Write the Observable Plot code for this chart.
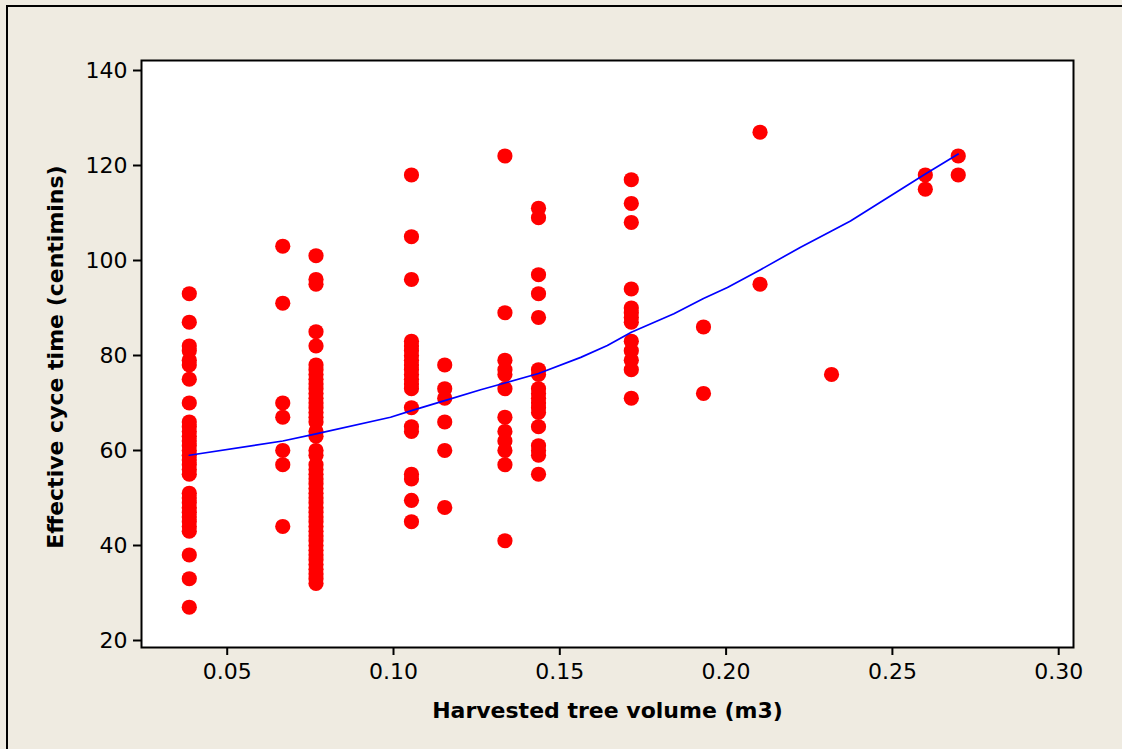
<!DOCTYPE html>
<html>
<head>
<meta charset="utf-8">
<script src="https://cdn.jsdelivr.net/npm/d3@7"></script>
<script src="https://cdn.jsdelivr.net/npm/@observablehq/plot@0.6"></script>
<style>
  html, body { margin: 0; padding: 0; background: #efebe1; overflow: hidden; }
  #chart { position: relative; width: 1122px; height: 749px; overflow: hidden; }
  #chart svg { display: block; position: absolute; left: 0; top: 0; }
  .outer-border { position: absolute; left: 6px; top: 5px; width: 1200px; height: 800px;
                  border: 2px solid #000; pointer-events: none; }
</style>
</head>
<body>
<div id="chart"><div class="outer-border"></div></div>
<script>
// Harvested tree volume classes (m3)
const volumes = [0.0386, 0.0667, 0.0767, 0.1054, 0.1154, 0.1335, 0.1436, 0.1715, 0.1932, 0.2102, 0.2317, 0.2599, 0.2698];

// Effective cycle times (centimins) observed for each volume class
const cycleTimes = [
  [93, 87, 82, 81, 79, 78, 75, 70, 66, 65, 64, 63, 62, 61, 60, 59, 58, 57, 56, 55, 51, 50, 49, 48, 47, 46, 45, 44, 43, 38, 33, 27],
  [103, 91, 70, 67, 60, 57, 44],
  [101, 96, 95, 85, 82, 78, 77, 76, 75, 74, 73, 72, 71, 70, 69, 68, 67, 66, 64, 63, 60, 59, 57, 56, 55, 54, 53, 52, 51, 50, 49, 48, 47, 46, 45, 44, 43, 42, 41, 40, 39, 38, 37, 36, 35, 34, 33, 32],
  [118, 105, 96, 83, 82, 81, 80, 79, 78, 77, 76, 75, 74, 73, 69, 65, 64, 55, 54, 49.5, 45],
  [78, 73, 71, 66, 60, 48],
  [122, 89, 79, 77, 76, 73, 67, 64, 62, 60, 57, 41],
  [111, 109, 97, 93, 88, 77, 76, 73, 72, 71, 70, 69, 68, 65, 61, 60, 59, 55],
  [117, 112, 108, 94, 90, 89, 88, 87, 83, 81, 79, 77, 71],
  [86, 72],
  [127, 95],
  [76],
  [118, 115],
  [122, 118]
];

// Lowess smoother through the scatter
const fitVolume = [0.0386, 0.0667, 0.0767, 0.0991, 0.1054, 0.1154, 0.1262, 0.1335, 0.1436, 0.1563, 0.1643, 0.1715, 0.1843, 0.1932, 0.2004, 0.2102, 0.2224, 0.2317, 0.2374, 0.2599, 0.2698];
const fitTime   = [59.0, 62.0, 63.5, 67.0, 68.4, 70.5, 72.8, 74.2, 76.2, 79.6, 82.1, 84.9, 88.8, 92.0, 94.3, 98.0, 102.8, 106.2, 108.3, 118.2, 122.4];

// Axis ticks and titles
const xTicks = [0.05, 0.10, 0.15, 0.20, 0.25, 0.30];
const yTicks = [20, 40, 60, 80, 100, 120, 140];
const xTitle = "Harvested tree volume (m3)";
const yTitle = "Effective cyce time (centimins)";

const points = volumes.flatMap((v, i) => cycleTimes[i].map(t => ({volume: v, time: t})));
const fit = fitVolume.map((v, i) => ({volume: v, time: fitTime[i]}));

const plot = Plot.plot({
  width: 1122,
  height: 749,
  marginLeft: 141,
  marginRight: 49,
  marginTop: 60,
  marginBottom: 102,
  style: {background: "transparent", fontFamily: "'DejaVu Sans', sans-serif", fontSize: "22px", color: "#000"},
  x: {domain: [0.02423, 0.30445]},
  y: {domain: [18.526, 142.105]},
  marks: [
    Plot.frame({fill: "white", stroke: null}),
    Plot.axisX({ticks: xTicks, tickFormat: d => d.toFixed(2), tickSize: 8, tickPadding: 8, strokeWidth: 2, label: null}),
    Plot.axisY({ticks: yTicks, tickSize: 8, tickPadding: 6, strokeWidth: 2, label: null}),
    Plot.dot(points, {x: "volume", y: "time", r: 7.6, fill: "#ff0000", stroke: null}),
    Plot.line(fit, {x: "volume", y: "time", stroke: "#0000ff", strokeWidth: 1.7}),
    Plot.frame({stroke: "#000", strokeWidth: 2}),
    Plot.text([xTitle], {text: d => d, frameAnchor: "bottom", dy: 63, fontSize: 22, fontWeight: "bold", textAnchor: "middle", lineAnchor: "middle", fill: "#000"}),
    Plot.text([yTitle], {text: d => d, frameAnchor: "left", dx: -86, dy: 3, rotate: -90, fontSize: 22, fontWeight: "bold", textAnchor: "middle", lineAnchor: "middle", fill: "#000"})
  ]
});

document.getElementById("chart").prepend(plot);
</script>
</body>
</html>
